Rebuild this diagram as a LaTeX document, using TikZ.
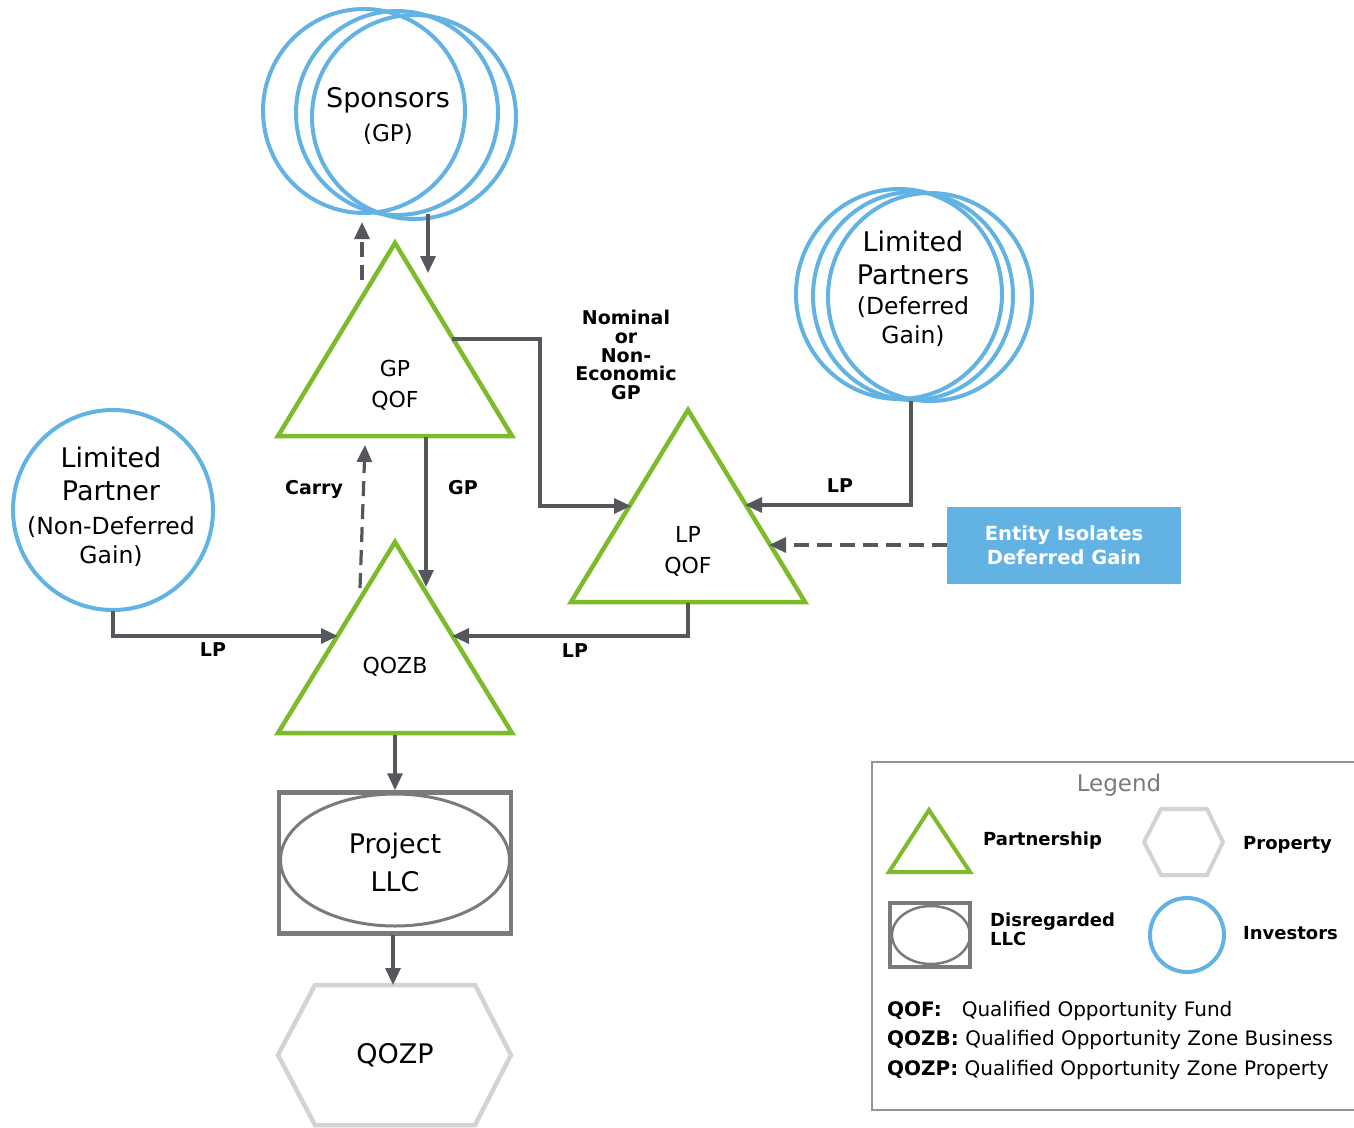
\documentclass[tikz,border=0pt]{standalone}
\usepackage{fontspec}
\setmainfont{DejaVu Sans}
\usetikzlibrary{arrows.meta,shapes.geometric}
\definecolor{pgreen}{HTML}{7DBB2B}
\definecolor{iblue}{HTML}{62B3E4}
\definecolor{agray}{HTML}{54575C}
\definecolor{lgray}{HTML}{7A7A7A}
\definecolor{hgray}{HTML}{D3D3D3}
\begin{document}
\begin{tikzpicture}[x=1pt,y=-1pt,
 conn/.style={draw=agray, line width=3.2pt, -{Triangle[length=17pt,width=15pt]}},
 dconn/.style={conn, dash pattern=on 15pt off 8pt},
 part/.style={draw=pgreen, line width=4.5pt, line join=miter},
 inv/.style={draw=iblue, line width=4pt, ellipse, inner sep=0},
 lbl/.style={font=\fontsize{19}{18.7}\selectfont\bfseries, align=center, inner sep=0},
 big/.style={font=\fontsize{27}{34}\selectfont, align=center, inner sep=0},
 mid/.style={font=\fontsize{22}{31}\selectfont, align=center, inner sep=0},
 leg/.style={font=\fontsize{18}{19}\selectfont\bfseries, align=left, inner sep=0, anchor=west},
]
\useasboundingbox (0,0) rectangle (1354,1127);

% ---------- Sponsors ----------
\node[inv, minimum width=202, minimum height=204] (spA) at (364,111) {};
\node[inv, minimum width=202, minimum height=204] (spB) at (397,113) {};
\node[inv, minimum width=204, minimum height=204] (spC) at (414,117) {};
\node[big] (spon) at (388,100) {Sponsors};
\node[mid, font=\fontsize{23}{28}\selectfont] (spgp) at (388,134) {(GP)};

% ---------- Limited Partners (Deferred) ----------
\node[inv, minimum width=206, minimum height=210] (lpA) at (899,294) {};
\node[inv, minimum width=200, minimum height=208] (lpB) at (913,296) {};
\node[inv, minimum width=204, minimum height=208] (lpC) at (930,297) {};
\node[big, font=\fontsize{27}{34}\selectfont] (lpt1) at (913,258) {Limited\\[-1pt]Partners};
\node[mid, font=\fontsize{23.5}{29}\selectfont] (lpt2) at (913,322) {(Deferred\\Gain)};

% ---------- Limited Partner (Non-Deferred) ----------
\node[inv, circle, minimum size=200] (lnd) at (113,510) {};
\node[big] (lndt1) at (111,474) {Limited\\[-1pt]Partner};
\node[mid, font=\fontsize{23.5}{29}\selectfont] (lndt2) at (111,542) {(Non-Deferred\\Gain)};

% ---------- Partnerships (triangles) ----------
\coordinate (gpT) at (395,243); \coordinate (gpL) at (278,436); \coordinate (gpR) at (512,436);
\draw[part] (gpT) -- (gpR) -- (gpL) -- cycle;
\node[mid] (gpq) at (395,385) {GP\\QOF};

\coordinate (zbT) at (395,542); \coordinate (zbL) at (278,733); \coordinate (zbR) at (512,733);
\draw[part] (zbT) -- (zbR) -- (zbL) -- cycle;
\node[mid] (qozb) at (395,667) {QOZB};

\coordinate (lqT) at (688,410); \coordinate (lqL) at (571,602); \coordinate (lqR) at (805,602);
\draw[part] (lqT) -- (lqR) -- (lqL) -- cycle;
\node[mid] (lpq) at (688,551) {LP\\QOF};

% ---------- Entity box ----------
\node[fill=iblue, minimum width=234, minimum height=77, inner sep=0, text=white,
      font=\fontsize{19.5}{24}\selectfont\bfseries, align=center] (ent) at (1064,545) {Entity Isolates\\Deferred Gain};

% ---------- Project LLC ----------
\node[draw=lgray, line width=4.5pt, minimum width=232, minimum height=141, inner sep=0] (pbox) at (395,863) {};
\node[draw=lgray, line width=3pt, ellipse, minimum width=229, minimum height=132, inner sep=0] (pell) at (395,860) {};
\node[big, font=\fontsize{27}{38}\selectfont] (proj) at (395,862) {Project\\LLC};

% ---------- QOZP ----------
\draw[hgray, line width=4.5pt, line join=miter] (278,1055) -- (315,985) -- (475,985) -- (511,1055) -- (475,1125) -- (315,1125) -- cycle;
\node[big] (qozp) at (395,1055) {QOZP};

% ---------- connector endpoints ----------
\coordinate (spOut) at (428,214);
\coordinate (gpIn) at (428,273);
\coordinate (gpCarryIn) at (362,222);
\coordinate (gpCarryOut) at (362,280);
\coordinate (gpOutD) at (426,437);
\coordinate (zbIn) at (426,587);
\coordinate (zbCarryOut) at (360,588);
\coordinate (gpCarryIn2) at (365,445);
\coordinate (gpOutR) at (452,339);
\coordinate (lqInL) at (631,506);
\coordinate (lpOut) at (911,401);
\coordinate (lqInR) at (745,505);
\coordinate (entOut) at (947,545);
\coordinate (lqInE) at (769,545);
\coordinate (lqOut) at (688,603);
\coordinate (zbInR) at (452,636);
\coordinate (lndOut) at (113,611);
\coordinate (zbInL) at (338,636);
\coordinate (zbBot) at (395,735);
\coordinate (pbBot) at (393,935);
\coordinate (qzTop) at (393,985);

% ---------- connectors ----------
\draw[conn] (spOut) -- (gpIn);
\draw[dconn] (gpCarryOut) -- (gpCarryIn);
\draw[conn] (gpOutD) -- (zbIn);
\draw[dconn] (zbCarryOut) -- (gpCarryIn2);
\draw[conn, line join=miter] (gpOutR) -- (540,339) -- (540,506) -- (lqInL);
\draw[conn, line join=miter] (lpOut) -- (911,505) -- (lqInR);
\draw[dconn] (entOut) -- (lqInE);
\draw[conn, line join=miter] (lqOut) -- (688,636) -- (zbInR);
\draw[conn, line join=miter] (lndOut) -- (113,636) -- (zbInL);
\draw[conn] (zbBot) -- (pbox.north);
\draw[conn] (pbBot) -- (qzTop);

% ---------- labels ----------
\node[lbl] (lGP) at (463,488) {GP};
\node[lbl] (lCarry) at (314,489) {Carry};
\node[lbl] (lNom) at (626,355) {Nominal\\or\\Non-\\Economic\\GP};
\node[lbl] (lLP1) at (840,486) {LP};
\node[lbl] (lLP2) at (575,651) {LP};
\node[lbl] (lLP3) at (213,650) {LP};

% ---------- Legend ----------
\draw[lgray!80, line width=2.5pt] (1360,762) -- (872,762) -- (872,1110) -- (1360,1110);
\node[font=\fontsize{23}{28}\selectfont, text=lgray, inner sep=0] (legt) at (1119,785) {Legend};
\draw[part, line width=4pt] (929,810) -- (970,872) -- (889,872) -- cycle;
\node[leg] (lgp) at (983,841) {Partnership};
\draw[hgray, line width=4pt, line join=miter] (1144,842) -- (1161,809) -- (1207,809) -- (1223,842) -- (1207,875) -- (1161,875) -- cycle;
\node[leg] (lgprop) at (1243,845) {Property};
\node[draw=lgray, line width=4pt, minimum width=80, minimum height=64, inner sep=0] (lgbox) at (930,935) {};
\node[draw=lgray, line width=2.5pt, ellipse, minimum width=78, minimum height=58, inner sep=0] (lgell) at (931,935) {};
\node[leg, font=\fontsize{18}{19}\selectfont\bfseries] (lgdis) at (990,929) {Disregarded\\LLC};
\node[inv, circle, minimum size=74, line width=4pt] (lginv) at (1187,935) {};
\node[leg] (lginvt) at (1243,933) {Investors};
\node[anchor=west, inner sep=0, font=\fontsize{20}{29.5}\selectfont, align=left] (lgdefs) at (887,1040)
 {\textbf{QOF:}\hspace{20pt}Qualified Opportunity Fund\\
  \textbf{QOZB:} Qualified Opportunity Zone Business\\
  \textbf{QOZP:} Qualified Opportunity Zone Property};
\end{tikzpicture}
\end{document}
